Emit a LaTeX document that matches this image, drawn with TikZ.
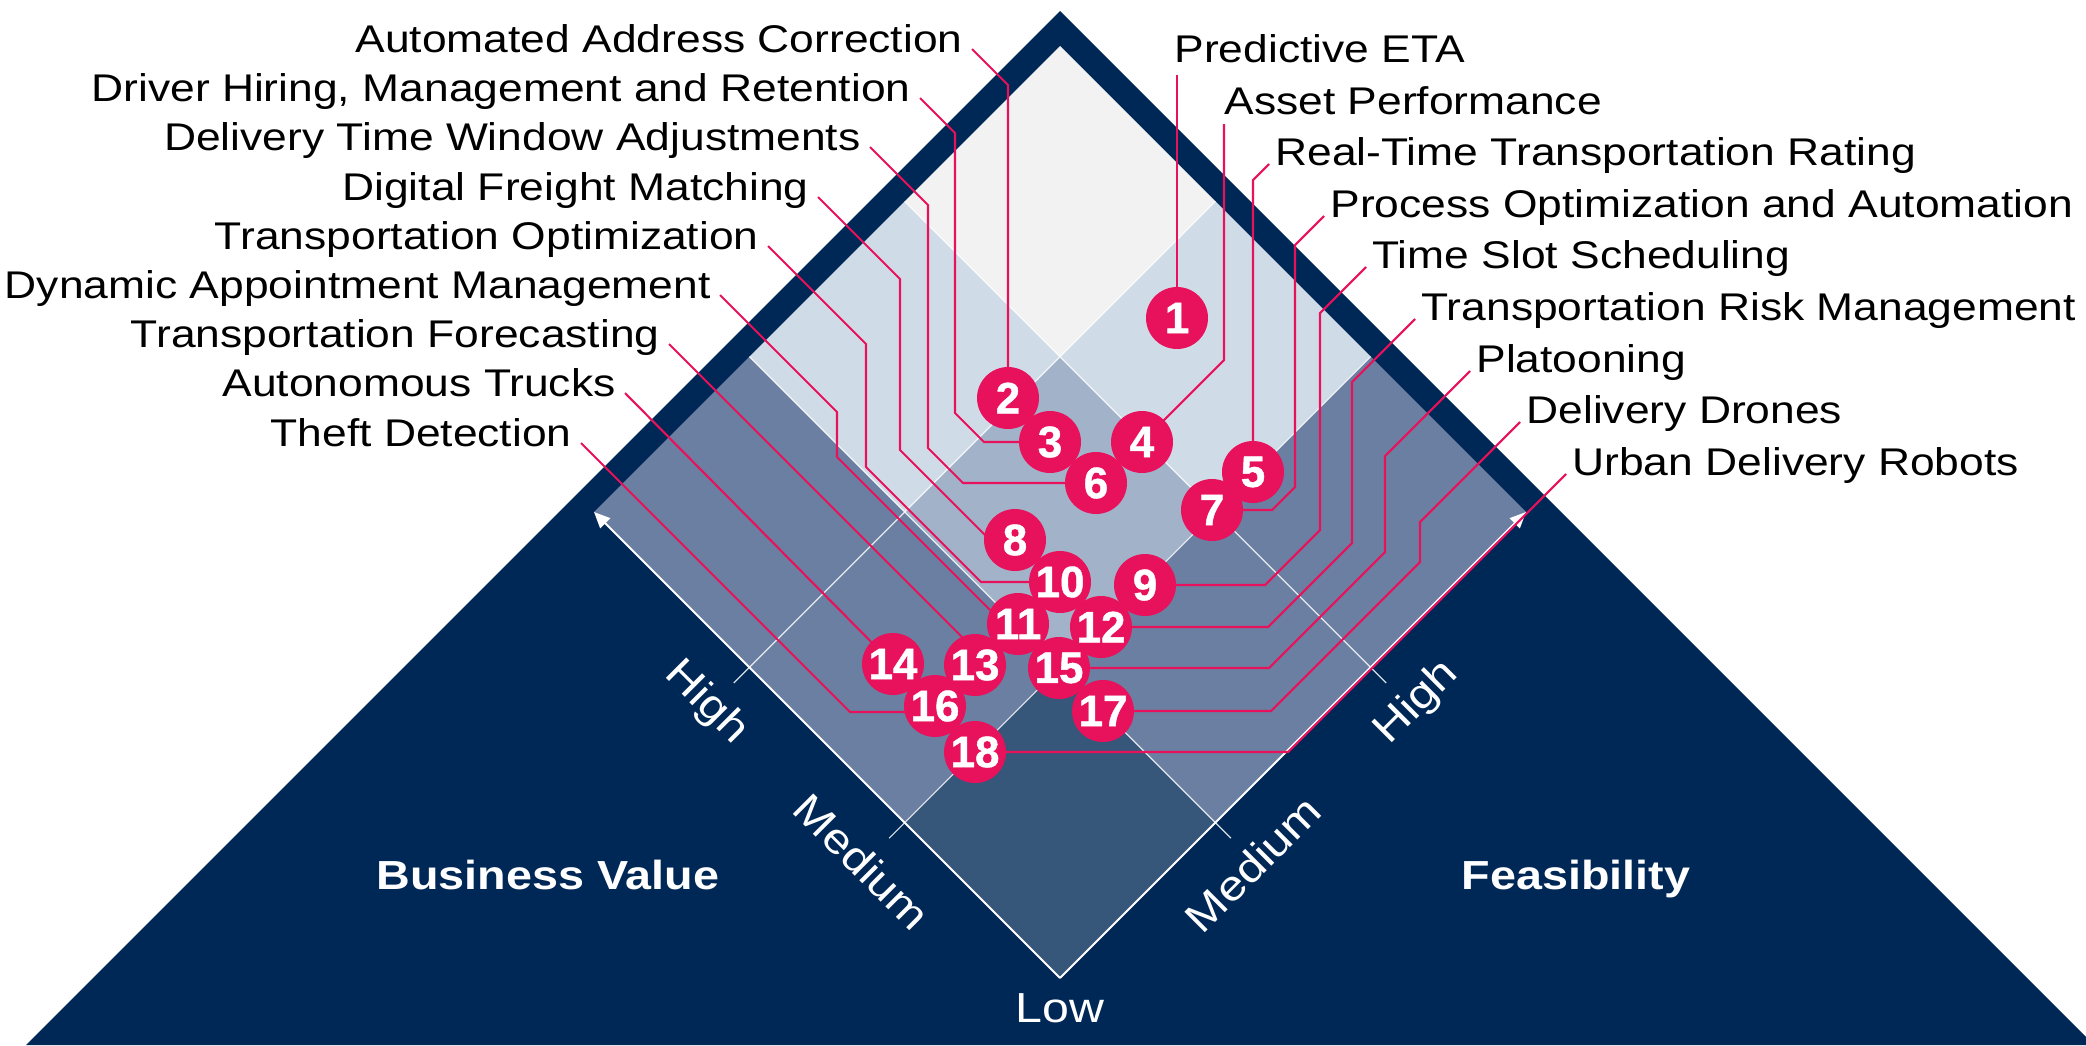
\documentclass[tikz,border=0pt]{standalone}
\usepackage{fontspec}
\setmainfont{Liberation Sans}[FakeStretch=1.15]
\newfontfamily\numfont{Liberation Sans Bold}[FakeBold=1]
\usetikzlibrary{arrows.meta}

\definecolor{bvNavy}{HTML}{002856}
\definecolor{bvPink}{HTML}{E8115B}
\definecolor{cellTop}{HTML}{F2F2F2}
\definecolor{cellLight}{HTML}{CFDCE8}
\definecolor{cellMid}{HTML}{A1B2C9}
\definecolor{cellSlate}{HTML}{6A7FA1}
\definecolor{cellLow}{HTML}{36577A}

\tikzset{
  lbl/.style={inner sep=0pt, text=black, font=\fontsize{19.3}{23}\selectfont},
  lblL/.style={lbl, anchor=base east},
  lblR/.style={lbl, anchor=base west},
  lead/.style={draw=bvPink, line width=1.05pt},
  num/.style={circle, fill=bvPink, text=white, minimum size=31pt, inner sep=0pt,
    font=\numfont\fontsize{22}{22}\selectfont},
  gridline/.style={draw=white, line width=0.6pt, opacity=0.85},
  axis/.style={draw=white, line width=1pt, -{Triangle[length=8pt,width=7pt]}},
  axlbl/.style={text=white, inner sep=0pt, font=\fontsize{21}{21}\selectfont},
  ttl/.style={text=white, inner sep=0pt, anchor=base, font=\bfseries\fontsize{20.3}{21}\selectfont},
}

\begin{document}
\begin{tikzpicture}[x=0.5pt, y=-0.5pt]
\useasboundingbox (0,0) rectangle (2086,1045);
\clip (0,0) rectangle (2086,1045);
\fill[white] (0,0) rectangle (2086,1045);

% navy roof triangle
\fill[bvNavy] (1060,11) -- (2094,1045) -- (26,1045) -- cycle;

% 3x3 value/feasibility grid, u = business value, v = feasibility
\begin{scope}[shift={(1060,978)}, x={(-77.667pt,77.667pt)}, y={(77.667pt,77.667pt)}]
  \fill[cellLow]   (0,0) -- (1,0) -- (1,1) -- (0,1) -- cycle;
  \fill[cellSlate] (1,0) -- (2,0) -- (2,1) -- (1,1) -- cycle;
  \fill[cellSlate] (2,0) -- (3,0) -- (3,1) -- (2,1) -- cycle;
  \fill[cellSlate] (0,1) -- (1,1) -- (1,2) -- (0,2) -- cycle;
  \fill[cellSlate] (0,2) -- (1,2) -- (1,3) -- (0,3) -- cycle;
  \fill[cellMid]   (1,1) -- (2,1) -- (2,2) -- (1,2) -- cycle;
  \fill[cellLight] (2,1) -- (3,1) -- (3,2) -- (2,2) -- cycle;
  \fill[cellLight] (1,2) -- (2,2) -- (2,3) -- (1,3) -- cycle;
  \fill[cellTop]   (2,2) -- (3,2) -- (3,3) -- (2,3) -- cycle;
  \foreach \i in {1,2} {
    \draw[gridline] (\i,-0.1) -- (\i,3);
    \draw[gridline] (-0.1,\i) -- (3,\i);
  }
  \coordinate (bot) at (0,0);
  \coordinate (bvTip) at (3,0);
  \coordinate (fsTip) at (0,3);
  \draw[axis] (bot) -- (bvTip);
  \draw[axis] (bot) -- (fsTip);
\end{scope}

% axis labels
\node[axlbl, rotate=-45] (bvHigh) at (706,703) {High};
\node[axlbl, rotate=-45] (bvMed)  at (862,862) {Medium};
\node[axlbl, rotate=45]  (fsHigh) at (1417,703) {High};
\node[axlbl, rotate=45]  (fsMed)  at (1253,864) {Medium};
\node[axlbl, anchor=base] (low) at (1060,1022) {Low};
\node[ttl] (bvTitle) at (548,889) {Business Value};
\node[ttl] (fsTitle) at (1576,889) {Feasibility};

% use-case labels, left column
\node[lblL] (l1) at (963,52)  {Automated Address Correction};
\node[lblL] (l2) at (911,101) {Driver Hiring, Management and Retention};
\node[lblL] (l3) at (861,150) {Delivery Time Window Adjustments};
\node[lblL] (l4) at (809,200) {Digital Freight Matching};
\node[lblL] (l5) at (759,249) {Transportation Optimization};
\node[lblL] (l6) at (711,298) {Dynamic Appointment Management};
\node[lblL] (l7) at (660,347) {Transportation Forecasting};
\node[lblL] (l8) at (616,396) {Autonomous Trucks};
\node[lblL] (l9) at (572,446) {Theft Detection};

% use-case labels, right column
\node[lblR] (r1) at (1174,62)  {Predictive ETA};
\node[lblR] (r2) at (1224,114) {Asset Performance};
\node[lblR] (r3) at (1275,165) {Real-Time Transportation Rating};
\node[lblR] (r4) at (1330,217) {Process Optimization and Automation};
\node[lblR] (r5) at (1372,268) {Time Slot Scheduling};
\node[lblR] (r6) at (1421,320) {Transportation Risk Management};
\node[lblR] (r7) at (1476,372) {Platooning};
\node[lblR] (r8) at (1526,423) {Delivery Drones};
\node[lblR] (r9) at (1572,475) {Urban Delivery Robots};

% marker positions
\coordinate (p1)  at (1177,318);
\coordinate (p2)  at (1008,398);
\coordinate (p3)  at (1050,442);
\coordinate (p4)  at (1142,442);
\coordinate (p5)  at (1253,472);
\coordinate (p6)  at (1096,483);
\coordinate (p7)  at (1212,510);
\coordinate (p8)  at (1015,540);
\coordinate (p9)  at (1145,585);
\coordinate (p10) at (1060,582);
\coordinate (p11) at (1018,624);
\coordinate (p12) at (1101,627);
\coordinate (p13) at (975,665);
\coordinate (p14) at (893,664);
\coordinate (p15) at (1059,668);
\coordinate (p16) at (935,706);
\coordinate (p17) at (1103,711);
\coordinate (p18) at (975,752);

% leader lines, left side
\draw[lead] ([shift={(9,-3)}]l1.base east) -- (1008,85) -- (p2);
\draw[lead] ([shift={(9,-3)}]l2.base east) -- (955,133) -- (955,413) -- (984,442) -- (p3);
\draw[lead] ([shift={(9,-3)}]l3.base east) -- (928,205) -- (928,448) -- (963,483) -- (p6);
\draw[lead] ([shift={(9,-3)}]l4.base east) -- (900,279) -- (900,450) -- (990,540) -- (p8);
\draw[lead] ([shift={(9,-3)}]l5.base east) -- (866,344) -- (866,467) -- (981,582) -- (p10);
\draw[lead] ([shift={(9,-3)}]l6.base east) -- (837,412) -- (837,457) -- (1004,624) -- (p11);
\draw[lead] ([shift={(9,-3)}]l7.base east) -- (982,657) -- (p13);
\draw[lead] ([shift={(9,-3)}]l8.base east) -- (p14);
\draw[lead] ([shift={(9,-3)}]l9.base east) -- (850,712) -- (935,712) -- (p16);

% leader lines, right side
\draw[lead] ([shift={(3,13)}]r1.base west) -- (p1);
\draw[lead] ([shift={(0,10)}]r2.base west) -- (1224,360) -- (p4);
\draw[lead] ([shift={(-6,-1)}]r3.base west) -- (1253,180) -- (p5);
\draw[lead] ([shift={(-6,-1)}]r4.base west) -- (1295,245) -- (1295,487) -- (1272,510) -- (p7);
\draw[lead] ([shift={(-6,-1)}]r5.base west) -- (1320,313) -- (1320,530) -- (1265,585) -- (p9);
\draw[lead] ([shift={(-6,-1)}]r6.base west) -- (1352,382) -- (1352,543) -- (1268,627) -- (p12);
\draw[lead] ([shift={(-6,-1)}]r7.base west) -- (1385,456) -- (1385,552) -- (1269,668) -- (p15);
\draw[lead] ([shift={(-6,-1)}]r8.base west) -- (1420,522) -- (1420,562) -- (1271,711) -- (p17);
\draw[lead] ([shift={(-6,-1)}]r9.base west) -- (1288,752) -- (p18);

% numbered markers
\foreach \k in {1,...,18} {
  \node[num] (c\k) at (p\k) {\k};
}
\end{tikzpicture}
\end{document}
